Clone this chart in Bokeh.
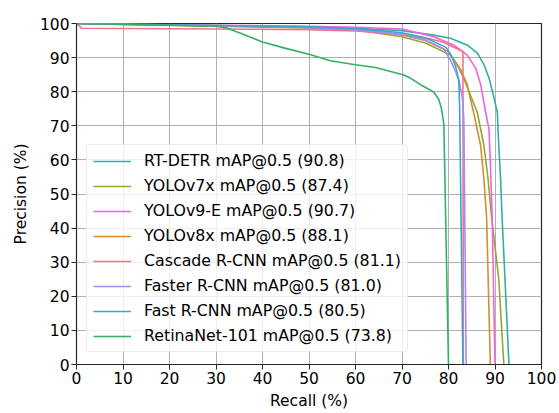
from bokeh.plotting import figure
from bokeh.models import Legend, LegendItem, Range1d, FixedTicker
from bokeh.embed import file_html
from bokeh.resources import INLINE

# ---- data ----
names = ["RT-DETR mAP@0.5 (90.8)", "YOLOv7x mAP@0.5 (87.4)", "YOLOv9-E mAP@0.5 (90.7)",
         "YOLOv8x mAP@0.5 (88.1)", "Cascade R-CNN mAP@0.5 (81.1)", "Faster R-CNN mAP@0.5 (81.0)",
         "Fast R-CNN mAP@0.5 (80.5)", "RetinaNet-101 mAP@0.5 (73.8)"]
colors = ["#36ada4", "#97a431", "#f561dd", "#ce9032", "#f77189", "#a48cf4", "#39a7d0", "#32b166"]

rtdetr_recall = [0, 10, 30, 50, 60, 70, 76.8, 80.4, 84, 86.2, 87.6, 88.7, 89.7, 90.5, 90.8, 91.2, 91.5, 93]
rtdetr_prec = [100, 99.8, 99.4, 99.0, 98.6, 97.9, 96.6, 95.7, 93.7, 91.3, 88, 84.1, 78.7, 73.9, 64.3, 54.6, 44, 0]

yolov7_recall = [0, 30, 50, 60, 70, 75, 80.4, 82.2, 83.4, 86.2, 87.6, 88.5, 89.2, 90.8, 91.9]
yolov7_prec = [100, 99.2, 98.7, 98.1, 96.1, 94.3, 90.8, 87, 83.5, 73.9, 64.3, 54.6, 44, 25.2, 0]

yolov9_recall = [0, 30, 50, 60, 70, 76.8, 81.1, 84, 85.8, 86.9, 88, 88.7, 89, 89.4, 90]
yolov9_prec = [100, 99.5, 99.2, 98.9, 98.4, 96.1, 93.7, 90.8, 87, 82.2, 73.9, 69.1, 59.5, 43, 0]

yolov8_recall = [0, 30, 50, 60, 70, 75, 80, 82.6, 84, 85.4, 86.9, 87.6, 88.2, 89]
yolov8_prec = [100, 99.3, 98.9, 98.4, 96.6, 95, 91.8, 86.5, 82.2, 73.9, 64.3, 54.6, 43, 0]

cascade_recall = [0, 1.2, 30, 50, 60, 70, 76, 79, 83.1, 83.2]
cascade_prec = [100, 98.6, 98.4, 98.2, 97.8, 96.8, 95.5, 94.4, 91.8, 0]

faster_recall = [0, 30, 50, 60, 70, 75, 79, 80.5, 81.5, 82.3, 83, 83.3, 83.8]
faster_prec = [100, 99.4, 98.8, 98.2, 96.8, 95.2, 92.5, 89, 86, 83, 78, 72, 0]

fast_recall = [0, 30, 50, 60, 70, 75, 79.5, 80.8, 81.6, 82.2, 82.4, 83.1]
fast_prec = [100, 99.4, 99.0, 98.5, 97.3, 95.8, 93, 90, 87, 83.5, 75, 0]

retina_recall = [0, 10, 20, 30, 32, 35, 40, 45, 50, 54.6, 60, 64.3, 70.4, 71.8, 74.3, 76.8, 77.9, 78.5, 79, 80]
retina_prec = [100, 99.7, 99.5, 99.2, 98.8, 97.3, 94.6, 92.7, 91, 89.1, 87.9, 87.1, 84.9, 84, 81.8, 79.9, 77.8, 75, 70.5, 0]

ticks = [0, 10, 20, 30, 40, 50, 60, 70, 80, 90, 100]

series = [(rtdetr_recall, rtdetr_prec), (yolov7_recall, yolov7_prec), (yolov9_recall, yolov9_prec),
          (yolov8_recall, yolov8_prec), (cascade_recall, cascade_prec), (faster_recall, faster_prec),
          (fast_recall, fast_prec), (retina_recall, retina_prec)]

FONT = "DejaVu Sans"
FS = "15.5px"

p = figure(width=558, height=412, output_backend="svg", toolbar_location=None,
           x_range=Range1d(0, 100), y_range=Range1d(0, 100),
           min_border_left=76, min_border_right=17, min_border_top=23, min_border_bottom=43)

p.outline_line_color = "#262626"
p.outline_line_width = 1.2
p.background_fill_color = "white"
p.border_fill_color = "white"

for ax in (p.xaxis, p.yaxis):
    ax.ticker = FixedTicker(ticks=ticks)
    ax.major_label_text_font = FONT
    ax.major_label_text_font_size = FS
    ax.major_label_text_color = "#000000"
    ax.axis_label_text_font = FONT
    ax.axis_label_text_font_size = FS
    ax.axis_label_text_font_style = "normal"
    ax.axis_label_text_color = "#000000"
    ax.minor_tick_line_color = None
    ax.major_tick_out = 5
    ax.major_tick_in = 0
    ax.major_tick_line_color = "#262626"
    ax.axis_line_color = "#262626"
    ax.major_label_standoff = 2

p.xaxis.axis_label_standoff = 5
p.yaxis.axis_label_standoff = 7
p.xaxis.axis_label = "Recall (%)"
p.yaxis.axis_label = "Precision (%)"

p.xgrid.ticker = FixedTicker(ticks=ticks)
p.ygrid.ticker = FixedTicker(ticks=ticks)
for g in (p.xgrid, p.ygrid):
    g.grid_line_color = "#b0b0b0"
    g.grid_line_width = 1

items = []
for (rx, py), name, c in zip(series, names, colors):
    r = p.line(rx, py, line_color=c, line_width=1.6)
    items.append(LegendItem(label=name, renderers=[r]))

legend = Legend(items=items, location=(10, 12))
legend.label_text_font = FONT
legend.label_text_font_size = "15.8px"
legend.label_text_color = "#000000"
legend.glyph_width = 38
legend.glyph_height = 18
legend.label_height = 18
legend.spacing = 6
legend.padding = 6
legend.margin = 0
legend.label_standoff = 13
legend.border_line_color = "#d9d9d9"
legend.border_line_width = 1
legend.background_fill_alpha = 0.8
legend.border_radius = 4
p.add_layout(legend, "center")

open("out.html", "w").write(file_html(p, INLINE))
